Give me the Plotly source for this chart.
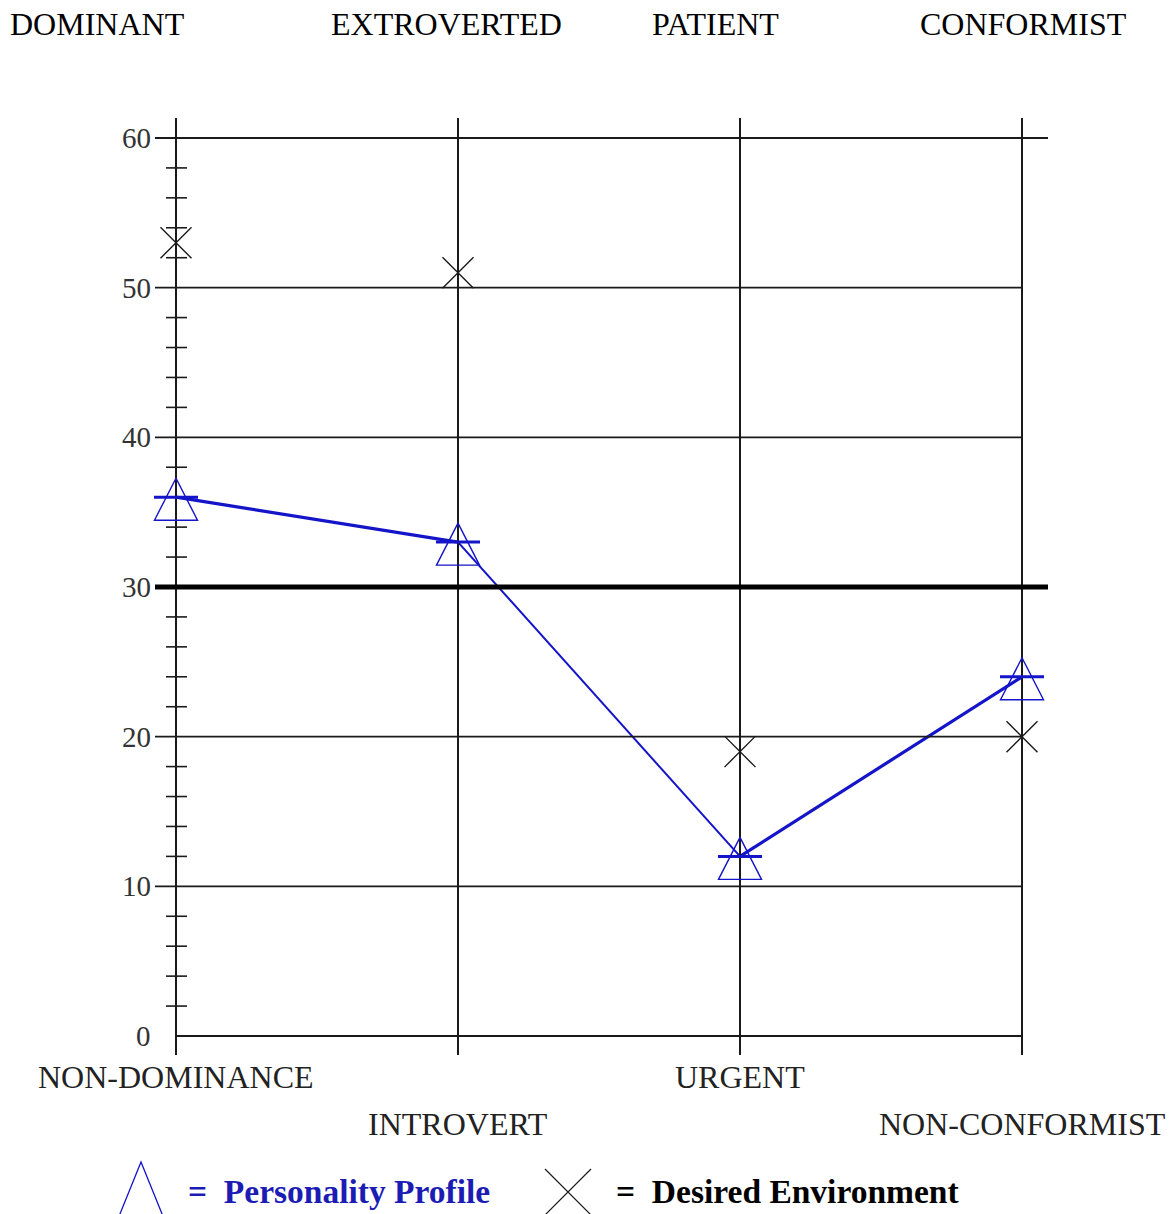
import plotly.graph_objects as go

# ---------------- data ----------------
categories = ["NON-DOMINANCE", "INTROVERT", "URGENT", "NON-CONFORMIST"]
top_labels = ["DOMINANT", "EXTROVERTED", "PATIENT", "CONFORMIST"]
personality = [36, 33, 12, 24]      # Personality Profile (triangles)
desired = [53, 51, 19, 20]          # Desired Environment (crosses)
y_ticks = [0, 10, 20, 30, 40, 50, 60]
midline = 30
minor_ticks = [2, 4, 6, 8, 12, 14, 16, 18, 22, 24, 26, 28, 32, 34, 36, 38,
               42, 44, 46, 48, 52, 54, 56, 58]

# ---------------- geometry / style ----------------
W, H = 1171, 1214
L, R, T, B = 140, 1060, 108, 1064
X0PX, XSTEP = 176, 282
Y0PX, YSTEP = 1036, 14.967

BLUE = "#1414c8"
INK = "#1a1a1a"
SERIF = "Liberation Serif, Times New Roman, serif"


def xd(px):
    return (px - X0PX) / XSTEP


def yd(py):
    return (Y0PX - py) / YSTEP


def xp(px):
    return (px - L) / (R - L)


def yp(py):
    return (B - py) / (B - T)


xs = list(range(len(categories)))
n = len(categories)

fig = go.Figure()

# connecting blue line, segment by segment
seg_widths = [3.2, 2.0, 3.2]
for i in range(n - 1):
    fig.add_trace(go.Scatter(
        x=[xs[i], xs[i + 1]], y=[personality[i], personality[i + 1]],
        mode="lines", line=dict(color=BLUE, width=seg_widths[i]),
        hoverinfo="skip", showlegend=False))

# desired environment crosses
fig.add_trace(go.Scatter(
    x=xs, y=desired, mode="markers",
    marker=dict(symbol="x-thin", size=31, line=dict(color=INK, width=1.4)),
    name="Desired Environment", showlegend=False))

shapes = []
# vertical category lines
for x in xs:
    shapes.append(dict(type="line", xref="x", yref="y", x0=x, x1=x,
                       y0=yd(1055), y1=yd(118),
                       line=dict(color=INK, width=2)))
# horizontal grid lines
for v in y_ticks:
    if v == 0:
        x0, x1 = xs[0], xs[-1]
    else:
        x0 = xd(155)
        x1 = xd(1048) if v == y_ticks[-1] else xs[-1]
    shapes.append(dict(type="line", xref="x", yref="y", x0=x0, x1=x1,
                       y0=v, y1=v, line=dict(color=INK, width=1.8)))
# thick midline
shapes.append(dict(type="line", xref="x", yref="y", x0=xd(155), x1=xd(1048),
                   y0=midline, y1=midline, line=dict(color="black", width=5)))
# minor ticks on the first axis
for v in minor_ticks:
    shapes.append(dict(type="line", xref="x", yref="y", x0=xd(166), x1=xd(187),
                       y0=v, y1=v, line=dict(color=INK, width=1.6)))

# triangle markers with bar at value
for x, v in zip(xs, personality):
    shapes.append(dict(type="path", xref="x", yref="y",
                       xsizemode="pixel", ysizemode="pixel",
                       xanchor=x, yanchor=v,
                       path="M -21.5,-23 L 21.5,-23 L 0,19 Z",
                       line=dict(color=BLUE, width=1.4)))
    shapes.append(dict(type="line", xref="x", yref="y",
                       xsizemode="pixel", ysizemode="pixel",
                       xanchor=x, yanchor=v, x0=-22, x1=22, y0=0, y1=0,
                       line=dict(color=BLUE, width=3)))

# legend symbols
shapes.append(dict(type="path", xref="paper", yref="paper",
                   xsizemode="pixel", ysizemode="pixel",
                   xanchor=xp(141), yanchor=yp(1190),
                   path="M -23.5,-30 L 23.5,-30 L 0,28 Z",
                   line=dict(color=BLUE, width=1.3)))
shapes.append(dict(type="path", xref="paper", yref="paper",
                   xsizemode="pixel", ysizemode="pixel",
                   xanchor=xp(568), yanchor=yp(1192),
                   path="M -23,-23 L 23,23 M -23,23 L 23,-23",
                   line=dict(color=INK, width=1.2)))

annotations = []
# y tick labels
for v in y_ticks:
    annotations.append(dict(x=xd(153), y=v, xref="x", yref="y",
                            text=str(v), showarrow=False, xanchor="right",
                            yanchor="middle",
                            font=dict(family=SERIF, size=29, color="#333")))
# bottom category labels (alternating rows)
rows = [1077, 1124]
for i, (x, lab) in enumerate(zip(xs, categories)):
    annotations.append(dict(x=x, y=yp(rows[i % 2]), xref="x", yref="paper",
                            text=lab, showarrow=False, xanchor="center",
                            yanchor="middle",
                            font=dict(family=SERIF, size=32, color="#222")))
# top labels
top_px = [(8, "left"), (446, "center"), (715, "center"), (1023, "center")]
for (px, anc), lab in zip(top_px, top_labels):
    annotations.append(dict(x=xp(px), y=yp(24), xref="paper", yref="paper",
                            text=lab, showarrow=False, xanchor=anc,
                            yanchor="middle",
                            font=dict(family=SERIF, size=32, color="black")))
# legend texts
annotations.append(dict(x=xp(186), y=yp(1191), xref="paper", yref="paper",
                        text="<b>=&nbsp;&nbsp;Personality Profile</b>",
                        showarrow=False, xanchor="left", yanchor="middle",
                        font=dict(family=SERIF, size=33.5, color="#1c1cb4")))
annotations.append(dict(x=xp(614), y=yp(1191), xref="paper", yref="paper",
                        text="<b>=&nbsp;&nbsp;Desired Environment</b>",
                        showarrow=False, xanchor="left", yanchor="middle",
                        font=dict(family=SERIF, size=33.5, color="black")))

fig.update_layout(
    width=W, height=H,
    margin=dict(l=L, r=W - R, t=T, b=H - B),
    paper_bgcolor="white", plot_bgcolor="white",
    showlegend=False,
    shapes=shapes, annotations=annotations,
    xaxis=dict(range=[xd(L), xd(R)], visible=False, fixedrange=True),
    yaxis=dict(range=[yd(B), yd(T)], visible=False, fixedrange=True),
)

fig.write_html("out.html", config={"displayModeBar": False},
               post_script="document.body.style.margin='0';"
                           "document.body.style.overflow='hidden';")
